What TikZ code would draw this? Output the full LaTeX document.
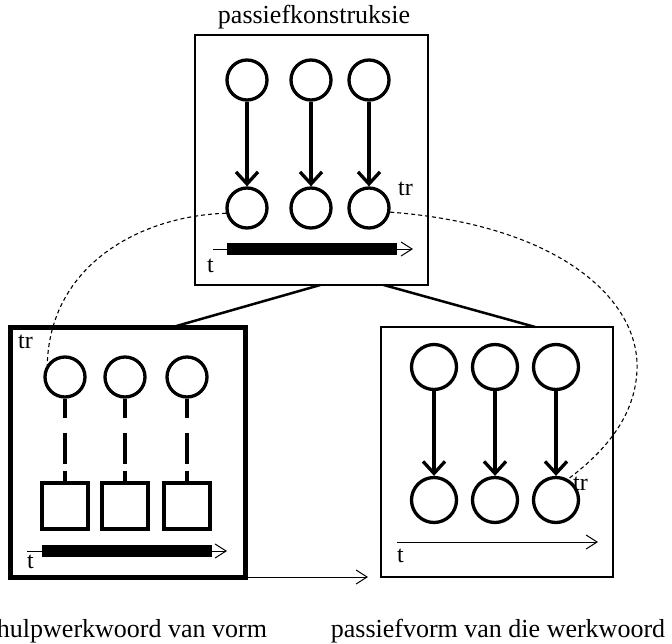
\documentclass[tikz,border=0pt]{standalone}
\usepackage{fontspec}
\setmainfont{Liberation Serif}
\usetikzlibrary{arrows.meta}
\begin{document}
\begin{tikzpicture}[x=1pt,y=-1pt,font=\fontsize{26}{31}\selectfont,
        ball/.style={circle,draw,line width=3.3pt,minimum size=40pt,inner sep=0pt},
        bigball/.style={ball,minimum size=45pt},
        cell/.style={rectangle,draw,line width=3.3pt,minimum size=46pt,inner sep=0pt},
        frame/.style={rectangle,draw,line width=1.3pt,minimum width=233pt,minimum height=250pt,inner sep=0pt,outer sep=0pt},
        tag/.style={anchor=base west,inner sep=0pt,font=\fontsize{24}{28}\selectfont},
        link/.style={-{Straight Barb[length=12pt,width=22pt]},line width=3.3pt},
        taxis/.style={-{Straight Barb[length=11pt,width=14pt]},line width=1pt},
        trace/.style={line width=1.1pt,dash pattern=on 4pt off 3pt}]
        \useasboundingbox (0,0) rectangle (672,643);

        \draw (311.5,160) node (top) [frame] {};
        \draw (127.5,452) node (lft) [frame,line width=5pt,minimum width=235pt] {};
        \draw (497,452) node (rgt) [frame,minimum width=232pt] {};

        \draw (314,23) node (title) [anchor=base,inner sep=0pt] {passiefkonstruksie};
        \draw (132,637) node (lbl) [anchor=base,inner sep=0pt] {hulpwerkwoord van vorm};
        \draw (498,637) node (rbl) [anchor=base,inner sep=0pt] {passiefvorm van die werkwoord};

        \draw (247,80) node (a1) [ball] {};
        \draw (311,80) node (a2) [ball] {};
        \draw (369,80) node (a3) [ball] {};
        \draw (247,208) node (b1) [ball] {};
        \draw (311,208) node (b2) [ball] {};
        \draw (369,208) node (b3) [ball] {};

        \draw (65,377) node (c1) [ball] {};
        \draw (125,377) node (c2) [ball] {};
        \draw (187,377) node (c3) [ball] {};
        \draw (65,506) node (s1) [cell] {};
        \draw (125,506) node (s2) [cell] {};
        \draw (187,506) node (s3) [cell] {};

        \draw (434,367) node (u1) [bigball] {};
        \draw (495,367) node (u2) [bigball] {};
        \draw (556,367) node (u3) [bigball] {};
        \draw (434,500) node (d1) [bigball] {};
        \draw (495,500) node (d2) [bigball] {};
        \draw (556,500) node (d3) [bigball] {};

        \draw [link] (a1.south) to (b1.north);
        \draw [link] (a2.south) to (b2.north);
        \draw [link] (a3.south) to (b3.north);
        \draw [link] (u1.south) to (d1.north);
        \draw [link] (u2.south) to (d2.north);
        \draw [link] (u3.south) to (d3.north);

        \draw [line width=3.3pt,dash pattern={on 19pt off 15pt on 31pt off 7pt on 20pt}] (c1.south) to (s1.north);
        \draw [line width=3.3pt,dash pattern={on 19pt off 15pt on 31pt off 7pt on 20pt}] (c2.south) to (s2.north);
        \draw [line width=3.3pt,dash pattern={on 19pt off 15pt on 31pt off 7pt on 20pt}] (c3.south) to (s3.north);

        \draw [line width=2.5pt] (top.-86) to (lft.70);
        \draw [line width=2.5pt] (top.-60) to (rgt.73);

        \coordinate (tip) at (368,577);
        \draw [taxis] (lft.south east) to (tip);

        \draw [taxis] (213,249) -- (413,249);
        \draw [line width=12pt] (227,249) -- (397,249);
        \draw [taxis] (27,551) -- (227,551);
        \draw [line width=12pt] (42,551) -- (212,551);
        \draw [taxis] (397,542) -- (598,542);

        \draw (207,272) node (t1) [tag] {t};
        \draw (27,568) node (t2) [tag] {t};
        \draw (397,562) node (t3) [tag] {t};
        \draw (398,195) node (tr1) [tag] {tr};
        \draw (18,348) node (tr2) [tag] {tr};
        \draw (573,490) node (tr3) [tag] {tr};

        \draw [trace] (b1.194) .. controls (140,216) and (50,265) .. (c1.145);
        \draw [trace] (b3.-11) .. controls (560,225) and (640,300) .. (637,370) .. controls (635,420) and (600,455) .. (d3.60);
\end{tikzpicture}
\end{document}
